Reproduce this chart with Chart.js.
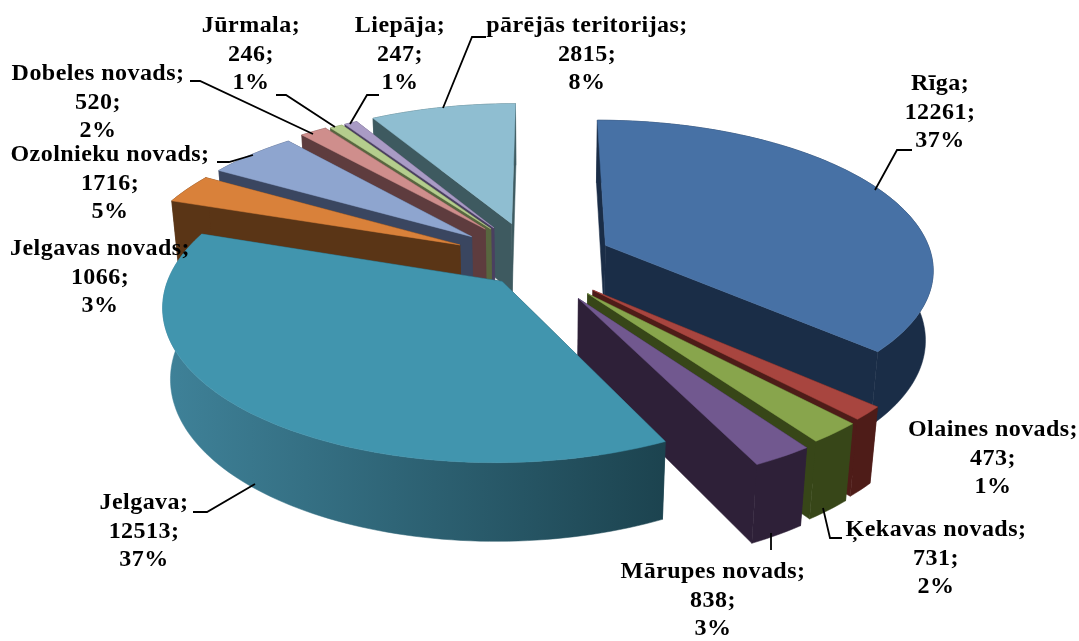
<!DOCTYPE html>
<html>
<head>
<meta charset="utf-8">
<style>
  html, body { margin: 0; padding: 0; background: #fff; }
  canvas { display: block; }
</style>
<script src="https://cdn.jsdelivr.net/npm/chart.js@4"></script>
</head>
<body>
<canvas id="chart" width="1079" height="641"></canvas>
<script>
const categories = ["Rīga", "Olaines novads", "Ķekavas novads", "Mārupes novads", "Jelgava", "Jelgavas novads",
    "Ozolnieku novads", "Dobeles novads", "Jūrmala", "Liepāja", "pārējās teritorijas"];
const values = [12261, 473, 731, 838, 12513, 1066, 1716, 520, 246, 247, 2815];
const percents = [37, 1, 2, 3, 37, 3, 5, 2, 1, 1, 8];

const topColors = ["#4771a5", "#a8453f", "#88a54c", "#71588f", "#4195ae", "#d9813a",
    "#8ea5cf", "#cf8e8c", "#b4cd8d", "#a99bc5", "#8fbed1"];
const wallLeft = ["#1a2d47", "#4e1c18", "#374618", "#2e2038", "#3f8299", "#5a3516",
    "#3a4660", "#5e3c3e", "#58663f", "#4a4060", "#3e5a60"];
const wallRight = ["#1a2d47", "#4e1c18", "#374618", "#2e2038", "#1c434f", "#5a3516",
    "#3a4660", "#5e3c3e", "#58663f", "#4a4060", "#3e5a60"];
const explode = [21.5, 26, 27, 28.6, 19.6, 27, 26.5, 27, 26, 26, 26];
// how far each slice leaves its bisector when pulled out, degrees
const explodeTurn = [0, 10, 9, 8.5, -4, -5, -5.5, -3, -4, -4, -6.5];
// back to front
const drawOrder = [10, 9, 8, 7, 6, 5, 0, 1, 2, 3, 4];

// label centre x, first line y, then the leader line
const labelX = [940, 993, 936, 713, 144, 100, 110, 98, 251, 400, 587];
const labelY = [84, 430, 530, 572, 503, 249, 155, 74, 26, 26, 26];
const leaders = [
    [[912, 150], [897, 150], [875, 190]],
    null,
    [[842, 538], [830, 538], [823, 508]],
    [[771, 550], [771, 533]],
    [[193, 512], [207, 512], [255, 484]],
    null,
    [[217, 162], [229, 162], [253, 155]],
    [[190, 81], [200, 81], [313, 134]],
    [[276, 95], [286, 95], [335, 127]],
    [[379, 95], [367, 95], [350, 124]],
    [[486, 37], [472, 37], [443, 108]]
];

// camera for the tilted pie
const view = { cx: 542, cy: 258, rx: 327, ry: 147, persp: 0.147, height: 71, depthPersp: 0.02 };

function project(u, v, bottom) {
    const w = 1 - view.persp * v + (bottom ? view.depthPersp : 0);
    return {
        x: view.cx + view.rx * u / w,
        y: view.cy + (view.ry * v + (bottom ? view.height : 0)) / w
    };
}

function polygon(ctx, pts, fill) {
    ctx.beginPath();
    pts.forEach((p, i) => (i ? ctx.lineTo(p.x, p.y) : ctx.moveTo(p.x, p.y)));
    ctx.closePath();
    ctx.fillStyle = fill;
    ctx.fill();
    // closes the hairline between neighbouring faces
    ctx.strokeStyle = fill;
    ctx.lineWidth = 0.5;
    ctx.stroke();
}

function drawSlice(ctx, el, i) {
    const { startAngle, endAngle } = el.getProps(["startAngle", "endAngle"], true);
    const mid = (startAngle + endAngle) / 2 + explodeTurn[i] * Math.PI / 180;
    const e = el.options.offset / 100;
    const ou = Math.cos(mid) * e, ov = Math.sin(mid) * e;
    const steps = Math.max(4, Math.ceil((endAngle - startAngle) * 40));

    const rim = [];
    for (let s = 0; s <= steps; s++) {
        const a = startAngle + (endAngle - startAngle) * s / steps;
        rim.push([ou + Math.cos(a), ov + Math.sin(a)]);
    }
    const rimTop = rim.map(p => project(p[0], p[1], false));
    const rimBottom = rim.map(p => project(p[0], p[1], true));
    const apexTop = project(ou, ov, false);
    const apexBottom = project(ou, ov, true);

    const xs = rimBottom.map(p => p.x).concat(rimTop.map(p => p.x));
    const grad = ctx.createLinearGradient(Math.min(...xs), 0, Math.max(...xs), 0);
    grad.addColorStop(0, wallLeft[i]);
    grad.addColorStop(1, wallRight[i]);

    const side = wallRight[i];
    polygon(ctx, [apexTop, rimTop[0], rimBottom[0], apexBottom], side);
    polygon(ctx, [apexTop, rimTop[steps], rimBottom[steps], apexBottom], side);
    polygon(ctx, rimTop.concat(rimBottom.slice().reverse()), grad);
    polygon(ctx, [apexTop].concat(rimTop), topColors[i]);
}

const pie3d = {
    id: "pie3d",
    beforeDatasetsDraw(chart) {
        const arcs = chart.getDatasetMeta(0).data;
        drawOrder.forEach(i => drawSlice(chart.ctx, arcs[i], i));
        return false;
    },
    afterDraw(chart) {
        const ctx = chart.ctx;
        ctx.save();
        ctx.strokeStyle = "#000";
        ctx.lineWidth = 1.8;
        leaders.forEach(line => {
            if (!line) return;
            ctx.beginPath();
            line.forEach((p, i) => (i ? ctx.lineTo(p[0], p[1]) : ctx.moveTo(p[0], p[1])));
            ctx.stroke();
        });
        ctx.fillStyle = "#000";
        ctx.font = "bold 24px 'Liberation Serif'";
        ctx.letterSpacing = "0.45px";
        ctx.textAlign = "center";
        ctx.textBaseline = "middle";
        categories.forEach((name, i) => {
            ctx.fillText(name + ";", labelX[i], labelY[i]);
            ctx.fillText(values[i] + ";", labelX[i], labelY[i] + 28.5);
            ctx.fillText(percents[i] + "%", labelX[i], labelY[i] + 57);
        });
        ctx.restore();
    }
};

new Chart(document.getElementById("chart"), {
    type: "pie",
    data: {
        labels: categories,
        datasets: [{
            data: values,
            backgroundColor: topColors,
            borderWidth: 0,
            offset: explode
        }]
    },
    options: {
        responsive: false,
        animation: false,
        plugins: { legend: { display: false }, tooltip: { enabled: false } }
    },
    plugins: [pie3d]
});
</script>
</body>
</html>
